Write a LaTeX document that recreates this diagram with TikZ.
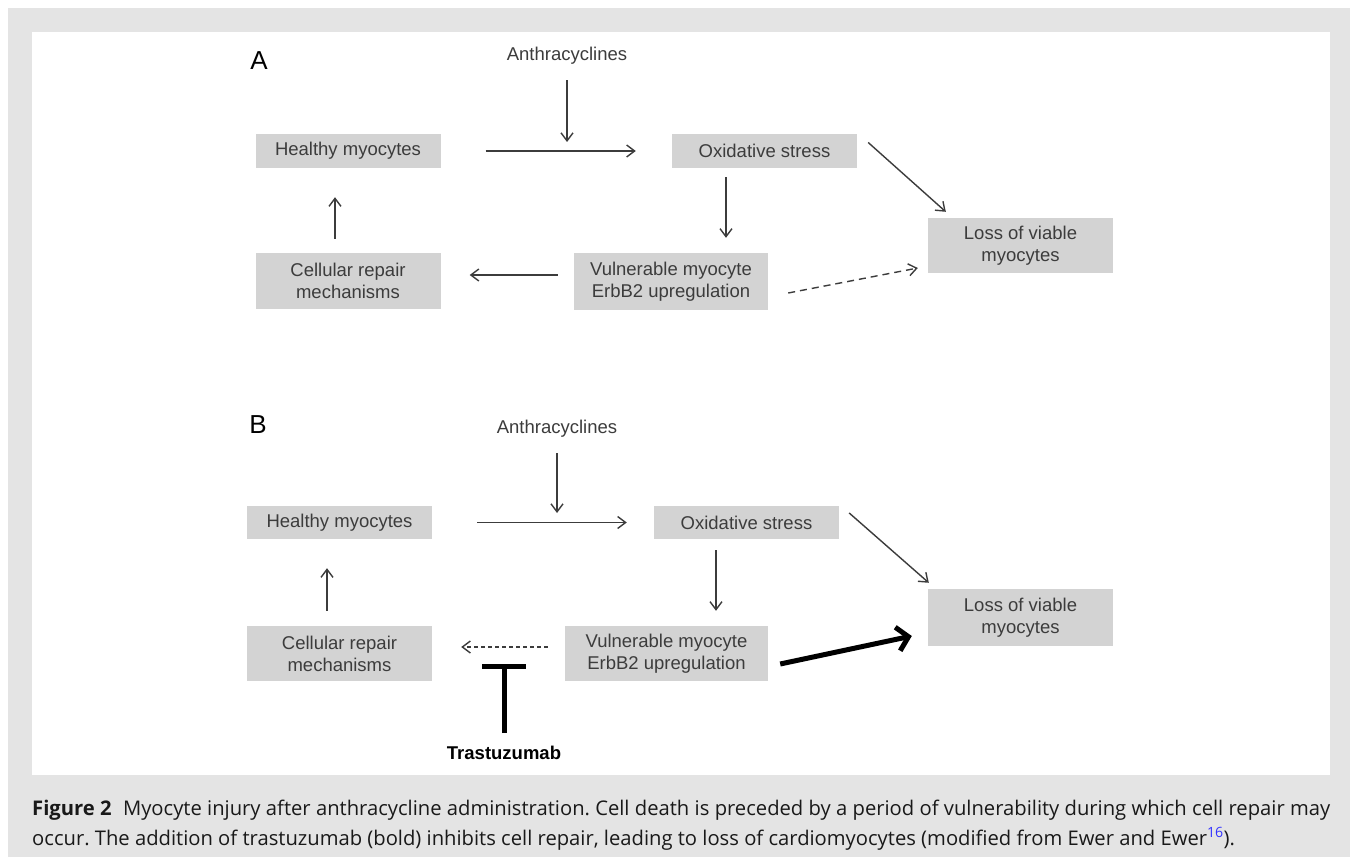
\documentclass[tikz,border=0pt]{standalone}
\usepackage{fontspec}
\setmainfont{Liberation Sans}
\newfontfamily\capfont{Open Sans}
\usetikzlibrary{arrows.meta}
\definecolor{framegray}{HTML}{E4E4E4}
\definecolor{boxgray}{HTML}{D3D3D3}
\definecolor{inkgray}{HTML}{3C3C3C}
\definecolor{refblue}{HTML}{3333FF}
\tikzset{
  box/.style={fill=boxgray, text=inkgray, inner sep=0pt, minimum width=185pt, align=center,
    font=\fontsize{18.5}{22}\selectfont},
  drug/.style={inner sep=0pt, text=inkgray, font=\fontsize{18.5}{22}\selectfont},
  panel/.style={inner sep=0pt, font=\fontsize{26}{30}\selectfont},
  mab/.style={inner sep=0pt, font=\fontsize{18.5}{22}\selectfont\bfseries},
  arr/.style={draw=inkgray, line width=1.4pt, -{Straight Barb[length=8pt,width=12pt]}},
  weak/.style={arr, dash pattern=on 7pt off 5pt},
  blocked/.style={arr, dash pattern=on 4pt off 3pt},
  strong/.style={draw=black, line width=5pt, -{Straight Barb[length=11pt,width=24pt]}},
  inh/.style={draw=black, line width=5pt, -{Bar[width=44pt]}},
  caption/.style={inner sep=0pt, text=black!90, font=\capfont\fontsize{20.2}{22}\selectfont\frenchspacing}
}
\begin{document}
\begin{tikzpicture}[x=1pt,y=-1pt]
  \useasboundingbox (0,0) rectangle (1357,864);
  \fill[white] (0,0) rectangle (1357,864);
  \fill[framegray] (8,8) rectangle (1350,857);
  \fill[white] (32,32) rectangle (1330,775);

  % panel A
  \node[panel] (labA) at (259,61) {A};
  \node[drug] (antA) at (567,55.5) {Anthracyclines};
  \node[box, minimum height=34pt] (hA) at (348,151) {Healthy myocytes};
  \node[box, minimum height=34pt] (oxA) at (764.5,151) {Oxidative stress};
  \node[box, minimum width=194pt, minimum height=57pt] (vulA) at (671,281.5) {Vulnerable myocyte\\ErbB2 upregulation};
  \node[box, minimum height=56pt] (repA) at (348,281) {Cellular repair\\mechanisms};
  \node[box, minimum height=55pt] (lossA) at (1020.5,245.5) {Loss of viable\\myocytes};
  \coordinate (jA) at (567,151);

  \draw[arr, shorten <=16pt, shorten >=9pt] (antA) -- (jA);
  \draw[arr, shorten <=45pt, shorten >=36pt] (hA) -- (oxA);
  \draw[arr, shorten <=9pt, shorten >=15pt] ([xshift=-38.5pt]oxA.south) -- ([xshift=-38.5pt]oxA.south |- vulA.north);
  \draw[arr, shorten <=16pt, shorten >=29pt] ([yshift=6.5pt]vulA.west) -- ([yshift=6.5pt]vulA.west -| repA.east);
  \draw[arr, shorten <=14pt, shorten >=29pt] ([xshift=-13pt]repA.north) -- ([xshift=-13pt]repA.north |- hA.south);
  \draw[arr] ([shift={(11,-8.5)}]oxA.east) -- ([shift={(18,-6)}]lossA.north west);
  \draw[weak] ([shift={(20,11.5)}]vulA.east) -- ([shift={(-10,22.5)}]lossA.west);

  % panel B
  \node[panel] (labB) at (258,425) {B};
  \node[drug] (antB) at (557,428.5) {Anthracyclines};
  \node[box, minimum height=33pt] (hB) at (339.5,522.5) {Healthy myocytes};
  \node[box, minimum height=33pt] (oxB) at (746.5,522.5) {Oxidative stress};
  \node[box, minimum width=203pt, minimum height=55pt] (vulB) at (666.5,653.5) {Vulnerable myocyte\\ErbB2 upregulation};
  \node[box, minimum height=55pt] (repB) at (339.5,653.5) {Cellular repair\\mechanisms};
  \node[box, minimum height=57pt] (lossB) at (1020.5,617.5) {Loss of viable\\myocytes};
  \node[mab] (trB) at (504,753) {Trastuzumab};
  \coordinate (jB) at (557,522.5);
  \coordinate (tB) at (504,664);

  \draw[arr, shorten <=16pt, shorten >=9.5pt] (antB) -- (jB);
  \draw[arr, shorten <=45pt, shorten >=27pt] (hB) -- (oxB);
  \draw[arr, shorten <=11pt, shorten >=15pt] ([xshift=-30.5pt]oxB.south) -- ([xshift=-30.5pt]oxB.south |- vulB.north);
  \draw[blocked, shorten <=17pt, shorten >=29pt] ([yshift=6.5pt]vulB.west) -- ([yshift=6.5pt]vulB.west -| repB.east);
  \draw[arr, shorten <=15pt, shorten >=29pt] ([xshift=-12.5pt]repB.north) -- ([xshift=-12.5pt]repB.north |- hB.south);
  \draw[arr] ([shift={(10,-9.5)}]oxB.east) -- ([shift={(1,-6)}]lossB.north west);
  \draw[strong] ([shift={(12,10.5)}]vulB.east) -- ([shift={(-16,18.5)}]lossB.west);
  \draw[inh, shorten <=13pt] (trB) -- (tB);

  % caption
  \node[caption, anchor=base west] (capA) at (32,815) {\makebox[1298pt][s]{\textbf{Figure 2}\hspace{0.3em} Myocyte injury after anthracycline administration. Cell death is preceded by a period of vulnerability during which cell repair may}};
  \node[caption, anchor=base west] (capB) at (32,845) {occur. The addition of trastuzumab (bold) inhibits cell repair, leading to loss of cardiomyocytes (modified from Ewer and Ewer\textsuperscript{\color{refblue}16}).};
\end{tikzpicture}
\end{document}
